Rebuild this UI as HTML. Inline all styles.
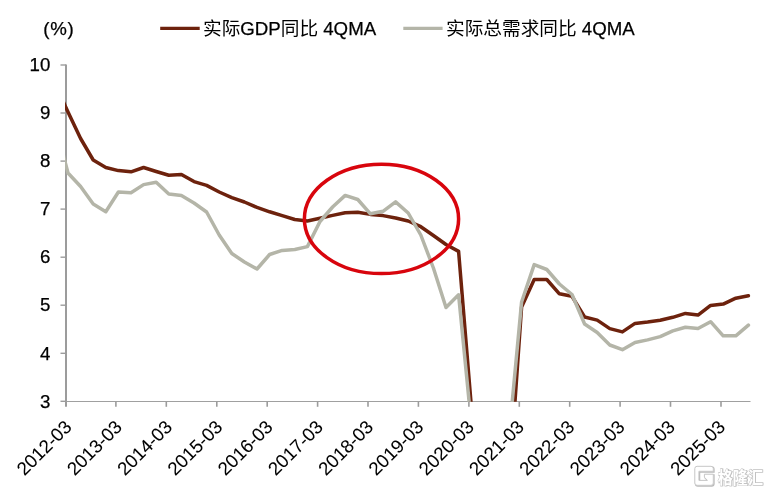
<!DOCTYPE html>
<html><head><meta charset="utf-8">
<style>
html,body{margin:0;padding:0;background:#fff;}
body{width:769px;height:493px;overflow:hidden;}
svg{display:block;}
.t{font-family:"Liberation Sans","Noto Sans CJK SC",sans-serif;font-size:18.67px;fill:#000;stroke:#000;stroke-width:0.25px;}
.r{stroke-width:0.05px;}
.cj{font-weight:400;stroke-width:0px;}
.wmt{font-family:"Noto Sans CJK SC",sans-serif;font-weight:700;font-size:17.3px;fill:#fff;stroke:#c4c4c4;stroke-width:1px;paint-order:stroke;}
.wmt2{font-family:"Noto Sans CJK SC",sans-serif;font-weight:700;font-size:17.3px;fill:#bdbdbd;stroke:#bdbdbd;stroke-width:1px;}
</style></head>
<body>
<svg width="769" height="493" viewBox="0 0 769 493">
<defs><clipPath id="pc"><rect x="65" y="40" width="687" height="361.8"/></clipPath></defs>
<line x1="66.0" y1="64.5" x2="66.0" y2="406.8" stroke="#9c9c9c" stroke-width="2"/>
<line x1="66.0" y1="401.5" x2="750.5" y2="401.5" stroke="#a0a0a0" stroke-width="1.2"/>
<line x1="60.5" y1="401.3" x2="66.0" y2="401.3" stroke="#9c9c9c" stroke-width="1.4"/>
<line x1="60.5" y1="353.3" x2="66.0" y2="353.3" stroke="#9c9c9c" stroke-width="1.4"/>
<line x1="60.5" y1="305.2" x2="66.0" y2="305.2" stroke="#9c9c9c" stroke-width="1.4"/>
<line x1="60.5" y1="257.2" x2="66.0" y2="257.2" stroke="#9c9c9c" stroke-width="1.4"/>
<line x1="60.5" y1="209.1" x2="66.0" y2="209.1" stroke="#9c9c9c" stroke-width="1.4"/>
<line x1="60.5" y1="161.1" x2="66.0" y2="161.1" stroke="#9c9c9c" stroke-width="1.4"/>
<line x1="60.5" y1="113.0" x2="66.0" y2="113.0" stroke="#9c9c9c" stroke-width="1.4"/>
<line x1="60.5" y1="65.0" x2="66.0" y2="65.0" stroke="#9c9c9c" stroke-width="1.4"/>
<line x1="115.9" y1="401.5" x2="115.9" y2="406.8" stroke="#9c9c9c" stroke-width="1.6"/>
<line x1="166.3" y1="401.5" x2="166.3" y2="406.8" stroke="#9c9c9c" stroke-width="1.6"/>
<line x1="216.8" y1="401.5" x2="216.8" y2="406.8" stroke="#9c9c9c" stroke-width="1.6"/>
<line x1="267.2" y1="401.5" x2="267.2" y2="406.8" stroke="#9c9c9c" stroke-width="1.6"/>
<line x1="317.6" y1="401.5" x2="317.6" y2="406.8" stroke="#9c9c9c" stroke-width="1.6"/>
<line x1="368.0" y1="401.5" x2="368.0" y2="406.8" stroke="#9c9c9c" stroke-width="1.6"/>
<line x1="418.4" y1="401.5" x2="418.4" y2="406.8" stroke="#9c9c9c" stroke-width="1.6"/>
<line x1="468.9" y1="401.5" x2="468.9" y2="406.8" stroke="#9c9c9c" stroke-width="1.6"/>
<line x1="519.3" y1="401.5" x2="519.3" y2="406.8" stroke="#9c9c9c" stroke-width="1.6"/>
<line x1="569.7" y1="401.5" x2="569.7" y2="406.8" stroke="#9c9c9c" stroke-width="1.6"/>
<line x1="620.1" y1="401.5" x2="620.1" y2="406.8" stroke="#9c9c9c" stroke-width="1.6"/>
<line x1="670.5" y1="401.5" x2="670.5" y2="406.8" stroke="#9c9c9c" stroke-width="1.6"/>
<line x1="721.0" y1="401.5" x2="721.0" y2="406.8" stroke="#9c9c9c" stroke-width="1.6"/>
<g clip-path="url(#pc)" fill="none" stroke-linejoin="round" stroke-linecap="round">
<polyline points="55.4,84.5 68.0,112.0 80.6,138.5 93.2,160.0 105.8,167.5 118.4,170.6 131.0,171.8 143.6,167.5 156.2,171.5 168.8,175.2 181.4,174.5 194.0,181.6 206.6,185.4 219.2,192.0 231.8,197.6 244.4,202.0 257.0,207.4 269.6,211.8 282.2,215.6 294.8,219.5 307.4,221.0 320.0,218.3 332.6,215.4 345.2,212.8 357.8,212.2 370.4,214.4 383.0,215.6 395.6,218.0 408.2,221.0 420.8,226.7 433.4,235.5 446.0,244.5 458.6,251.4 471.2,405.0 483.8,500.0 496.4,520.0 509.0,487.0 521.6,307.0 534.2,279.5 546.8,279.5 559.4,293.8 572.0,296.3 584.6,317.0 597.2,320.1 609.8,328.6 622.4,331.9 635.0,323.4 647.6,322.0 660.2,320.3 672.8,317.3 685.4,313.4 698.0,315.1 710.6,305.4 723.2,304.1 735.8,298.2 748.4,295.8" stroke="#6d220d" stroke-width="3.5"/>
<polyline points="55.4,125.0 68.0,173.0 80.6,186.5 93.2,204.0 105.8,211.7 118.4,192.0 131.0,192.8 143.6,184.6 156.2,182.3 168.8,194.0 181.4,195.6 194.0,203.0 206.6,212.0 219.2,235.0 231.8,253.5 244.4,262.0 257.0,269.0 269.6,254.5 282.2,250.4 294.8,249.5 307.4,246.6 320.0,221.5 332.6,207.0 345.2,195.4 357.8,199.5 370.4,213.8 383.0,211.3 395.6,201.9 408.2,213.0 420.8,235.0 433.4,268.0 446.0,307.5 458.6,294.8 471.2,422.7 483.8,520.0 496.4,520.0 509.0,436.0 521.6,302.0 534.2,264.6 546.8,269.5 559.4,284.0 572.0,294.5 584.6,324.0 597.2,332.5 609.8,345.0 622.4,349.7 635.0,342.5 647.6,339.9 660.2,336.6 672.8,330.9 685.4,327.2 698.0,328.5 710.6,321.7 723.2,335.8 735.8,335.8 748.4,325.2" stroke="#b4b5a8" stroke-width="3.5"/>
</g>
<ellipse cx="381.5" cy="218.9" rx="77.1" ry="54.7" fill="none" stroke="#d8050d" stroke-width="3.5"/>
<text x="50.3" y="407.5" text-anchor="end" class="t">3</text>
<text x="50.3" y="359.5" text-anchor="end" class="t">4</text>
<text x="50.3" y="311.4" text-anchor="end" class="t">5</text>
<text x="50.3" y="263.4" text-anchor="end" class="t">6</text>
<text x="50.3" y="215.3" text-anchor="end" class="t">7</text>
<text x="50.3" y="167.3" text-anchor="end" class="t">8</text>
<text x="50.3" y="119.2" text-anchor="end" class="t">9</text>
<text x="50.3" y="71.2" text-anchor="end" class="t">10</text>
<text x="43.2" y="35.2" class="t" letter-spacing="0.75">(%)</text>
<text transform="translate(68.2,423.5) rotate(-45)" text-anchor="end" class="t r" dy="6.5">2012-03</text>
<text transform="translate(118.5,423.5) rotate(-45)" text-anchor="end" class="t r" dy="6.5">2013-03</text>
<text transform="translate(168.7,423.5) rotate(-45)" text-anchor="end" class="t r" dy="6.5">2014-03</text>
<text transform="translate(219.0,423.5) rotate(-45)" text-anchor="end" class="t r" dy="6.5">2015-03</text>
<text transform="translate(269.3,423.5) rotate(-45)" text-anchor="end" class="t r" dy="6.5">2016-03</text>
<text transform="translate(319.6,423.5) rotate(-45)" text-anchor="end" class="t r" dy="6.5">2017-03</text>
<text transform="translate(369.8,423.5) rotate(-45)" text-anchor="end" class="t r" dy="6.5">2018-03</text>
<text transform="translate(420.1,423.5) rotate(-45)" text-anchor="end" class="t r" dy="6.5">2019-03</text>
<text transform="translate(470.4,423.5) rotate(-45)" text-anchor="end" class="t r" dy="6.5">2020-03</text>
<text transform="translate(520.6,423.5) rotate(-45)" text-anchor="end" class="t r" dy="6.5">2021-03</text>
<text transform="translate(570.9,423.5) rotate(-45)" text-anchor="end" class="t r" dy="6.5">2022-03</text>
<text transform="translate(621.2,423.5) rotate(-45)" text-anchor="end" class="t r" dy="6.5">2023-03</text>
<text transform="translate(671.4,423.5) rotate(-45)" text-anchor="end" class="t r" dy="6.5">2024-03</text>
<text transform="translate(721.7,423.5) rotate(-45)" text-anchor="end" class="t r" dy="6.5">2025-03</text>
<line x1="160.2" y1="28.45" x2="199.7" y2="28.45" stroke="#6d220d" stroke-width="3.3"/>
<text x="203" y="34.6" class="t"><tspan class="cj">实际</tspan>GDP<tspan class="cj">同比</tspan> 4QMA</text>
<line x1="403.3" y1="28.4" x2="442.6" y2="28.4" stroke="#b4b5a8" stroke-width="3.3"/>
<text x="446" y="34.6" class="t"><tspan class="cj">实际总需求同比</tspan> 4QMA</text>
<g class="wm">
<path d="M713.3 471.3 V468.6 Q713.3 466.3 711 466.3 H697.1 Q694.8 466.3 694.8 468.6 V483 Q694.8 485.3 697.1 485.3 H711 Q713.3 485.3 713.3 483 V474.2 H704.4 V477.2 L707.4 480.4 H698.9 V471.3 Z" transform="translate(0.7,0.7)" fill="none" stroke="#bababa" stroke-width="1.3"/>
<path d="M713.3 471.3 V468.6 Q713.3 466.3 711 466.3 H697.1 Q694.8 466.3 694.8 468.6 V483 Q694.8 485.3 697.1 485.3 H711 Q713.3 485.3 713.3 483 V474.2 H704.4 V477.2 L707.4 480.4 H698.9 V471.3 Z" fill="#fff" stroke="#c8c8c8" stroke-width="1"/>
<text x="0" y="0" transform="translate(718.4,484.2) scale(0.87,1)" class="wmt2">格隆汇</text>
<text x="0" y="0" transform="translate(717.8,483.5) scale(0.87,1)" class="wmt">格隆汇</text>
</g>
</svg>
</body></html>
